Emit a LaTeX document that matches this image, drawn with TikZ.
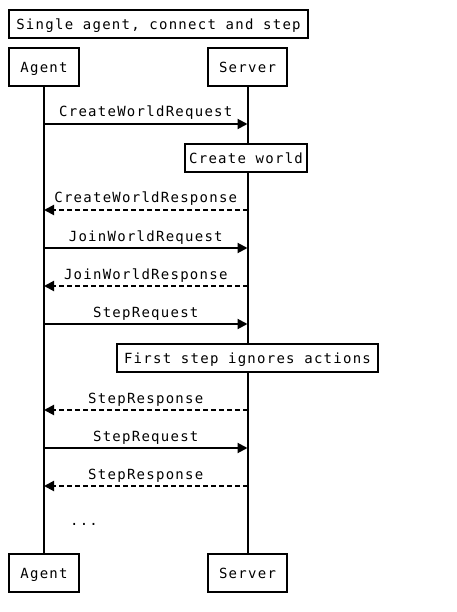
\documentclass[tikz,border=0pt]{standalone}
\usepackage{fontspec}
\setmainfont{DejaVu Sans Mono}[LetterSpace=9]
\usetikzlibrary{arrows.meta}
\tikzset{
  box/.style={draw, line width=2pt, fill=white, inner sep=0pt, text height=10.2pt, text depth=0pt, font=\fontsize{14}{16}\selectfont},
  life/.style={line width=2pt},
  msg/.style={line width=2pt, -{Triangle[length=10pt,width=10pt]}},
  reply/.style={msg, dash pattern=on 5pt off 3pt},
  lbl/.style={font=\fontsize{14}{16}\selectfont, inner sep=0pt, anchor=base},
}
\begin{document}
\begin{tikzpicture}[x=1pt,y=-1pt]
\useasboundingbox (0,0) rectangle (456,612);
\node[box, minimum width=299pt, minimum height=28pt] (title) at (158.5,24) {Single agent, connect and step};
\node[box, minimum width=70pt, minimum height=38pt] (agentTop) at (44,67) {Agent};
\node[box, minimum width=79pt, minimum height=38pt] (serverTop) at (247.5,67) {Server};
\node[box, minimum width=70pt, minimum height=38pt] (agentBot) at (44,573) {Agent};
\node[box, minimum width=79pt, minimum height=38pt] (serverBot) at (247.5,573) {Server};
\draw[life] (agentTop) -- (agentBot);
\draw[life] (serverTop) -- (serverBot);
\node[box, minimum width=122pt, minimum height=28pt] (create) at (246,158) {Create world};
\node[box, minimum width=261pt, minimum height=28pt] (first) at (247.5,358) {First step ignores actions};
% messages
\draw[msg] (agentTop |- 0,124) -- (serverTop |- 0,124) node[lbl, midway, yshift=7pt] (m1) {CreateWorldRequest};
\draw[reply] (serverTop |- 0,210) -- (agentTop |- 0,210) node[lbl, midway, yshift=7pt] (m2) {CreateWorldResponse};
\draw[msg] (agentTop |- 0,248) -- (serverTop |- 0,248) node[lbl, midway, yshift=7pt] (m3) {JoinWorldRequest};
\draw[reply] (serverTop |- 0,286) -- (agentTop |- 0,286) node[lbl, midway, yshift=7pt] (m4) {JoinWorldResponse};
\draw[msg] (agentTop |- 0,324) -- (serverTop |- 0,324) node[lbl, midway, yshift=7pt] (m5) {StepRequest};
\draw[reply] (serverTop |- 0,410) -- (agentTop |- 0,410) node[lbl, midway, yshift=7pt] (m6) {StepResponse};
\draw[msg] (agentTop |- 0,448) -- (serverTop |- 0,448) node[lbl, midway, yshift=7pt] (m7) {StepRequest};
\draw[reply] (serverTop |- 0,486) -- (agentTop |- 0,486) node[lbl, midway, yshift=7pt] (m8) {StepResponse};
\node[lbl] (dots) at (84,525) {...};
\end{tikzpicture}
\end{document}
